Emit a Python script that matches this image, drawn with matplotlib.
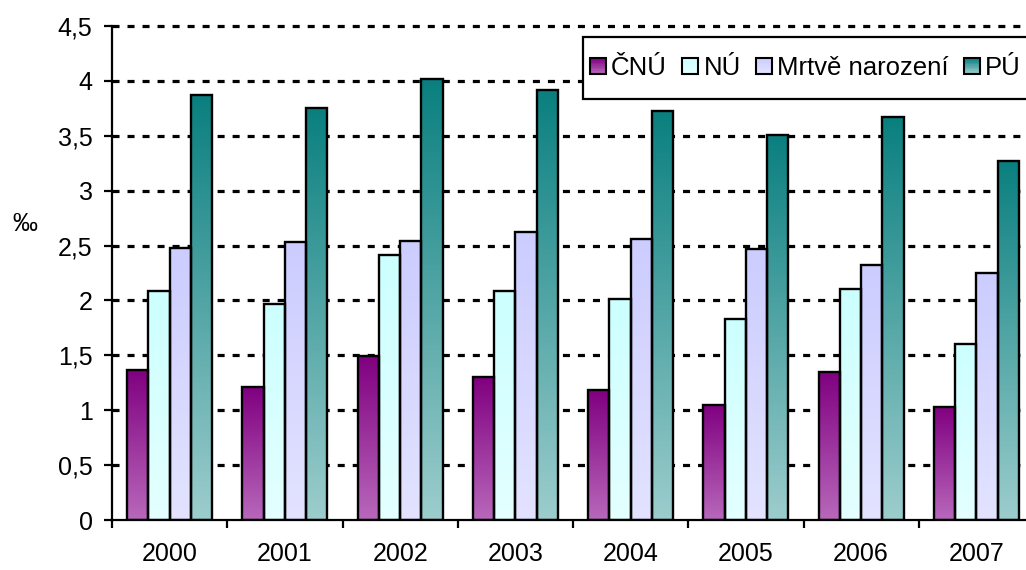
import numpy as np
import matplotlib
matplotlib.use("Agg")
import matplotlib.pyplot as plt
from matplotlib.patches import Rectangle
from matplotlib.legend_handler import HandlerBase
from matplotlib.colors import LinearSegmentedColormap, to_rgb

years = ['2000', '2001', '2002', '2003', '2004', '2005', '2006', '2007']
cnu = [1.37, 1.21, 1.49, 1.30, 1.18, 1.05, 1.35, 1.03]
nu = [2.09, 1.97, 2.41, 2.09, 2.01, 1.83, 2.10, 1.60]
mrtve = [2.48, 2.53, 2.54, 2.62, 2.56, 2.47, 2.32, 2.25]
pu = [3.87, 3.75, 4.02, 3.92, 3.73, 3.51, 3.67, 3.27]
labels = ['ČNÚ', 'NÚ', 'Mrtvě narození', 'PÚ']

# (top colour, bottom colour) of each gradient
grads = [('#800080', '#b868bb'),
         ('#ccffff', '#e4ffff'),
         ('#ccccff', '#e3e3ff'),
         ('#0a7f7f', '#9dcdcd')]

plt.rcParams['font.family'] = ['Liberation Sans', 'DejaVu Sans']
fs = 18
fs_leg = 18.5


class GradHandler(HandlerBase):
    def __init__(self, top, bot):
        HandlerBase.__init__(self)
        self.top = np.array(to_rgb(top))
        self.bot = np.array(to_rgb(bot))

    def create_artists(self, legend, orig_handle, xdescent, ydescent,
                       width, height, fontsize, trans):
        arts = []
        n = 10
        for i in range(n):
            t = i / (n - 1)
            c = self.bot * (1 - t) + self.top * t
            arts.append(Rectangle((-xdescent, -ydescent + height * i / n), width, height / n,
                                  facecolor=c, edgecolor='none', transform=trans))
        arts.append(Rectangle((-xdescent, -ydescent), width, height, facecolor='none',
                              edgecolor='black', lw=1.5, transform=trans))
        return arts


fig = plt.figure(figsize=(10.26, 5.7), dpi=100)
ax = fig.add_axes([112 / 1026, 50 / 570, 922 / 1026, 494 / 570])

x = np.arange(len(years))
w = 0.184
series = [cnu, nu, mrtve, pu]
for k, vals in enumerate(series):
    top, bot = grads[k]
    cmap = LinearSegmentedColormap.from_list('g%d' % k, [bot, top])
    bars = ax.bar(x + (k - 1.5) * w, vals, w, facecolor='none', edgecolor='black',
                  linewidth=1.7, zorder=3)
    for b in bars:
        x0 = b.get_x()
        h = b.get_height()
        grad = np.linspace(0, 1, 256).reshape(-1, 1)
        ax.imshow(grad, extent=[x0, x0 + w, 0, h], origin='lower', aspect='auto',
                  cmap=cmap, zorder=2, interpolation='bilinear')

ax.set_xlim(-0.5, len(years) - 0.5)
ax.set_ylim(0, 4.5)
ax.set_aspect('auto')

# grid - thick dotted
yt = np.arange(0, 4.51, 0.5)
ax.set_yticks(yt)
ax.set_yticklabels([('%g' % v).replace('.', ',') for v in yt], fontsize=fs)
for v in yt[1:]:
    ax.axhline(v, color='black', lw=2.3, linestyle=(0, (2.2, 2.5)), zorder=1, clip_on=False)

ax.set_xticks(x)
ax.set_xticklabels(years, fontsize=fs)
ax.set_xticks(np.arange(-0.5, len(years)), minor=True)
ax.tick_params(axis='x', which='major', length=0, pad=16)
ax.tick_params(axis='x', which='minor', length=6, width=1.6, direction='out')
ax.tick_params(axis='y', length=6, width=1.6, direction='out', pad=8)

for s in ['top', 'right']:
    ax.spines[s].set_visible(False)
for s in ['left', 'bottom']:
    ax.spines[s].set_linewidth(1.6)
    ax.spines[s].set_color('black')

fig.text(25 / 1026, 1 - 224 / 570, '‰', fontsize=fs, ha='center', va='center')

# legend box runs off the right edge like in the original
box = Rectangle((583 / 1026, 1 - 99 / 570), 480 / 1026, 62 / 570, transform=fig.transFigure,
                facecolor='white', edgecolor='black', lw=1.6, zorder=4)
fig.add_artist(box)

handles = [Rectangle((0, 0), 1, 1) for _ in labels]
hmap = {h: GradHandler(*grads[i]) for i, h in enumerate(handles)}
leg = fig.legend(handles, labels, handler_map=hmap, loc='center left',
                 bbox_to_anchor=(590 / 1026, 1 - 68 / 570), bbox_transform=fig.transFigure,
                 ncol=4, fontsize=fs_leg, frameon=False, borderaxespad=0, borderpad=0,
                 handlelength=0.62, handleheight=0.62, handletextpad=0.2,
                 columnspacing=0.6)
leg.set_zorder(5)

fig.savefig('out.png', dpi=100)
